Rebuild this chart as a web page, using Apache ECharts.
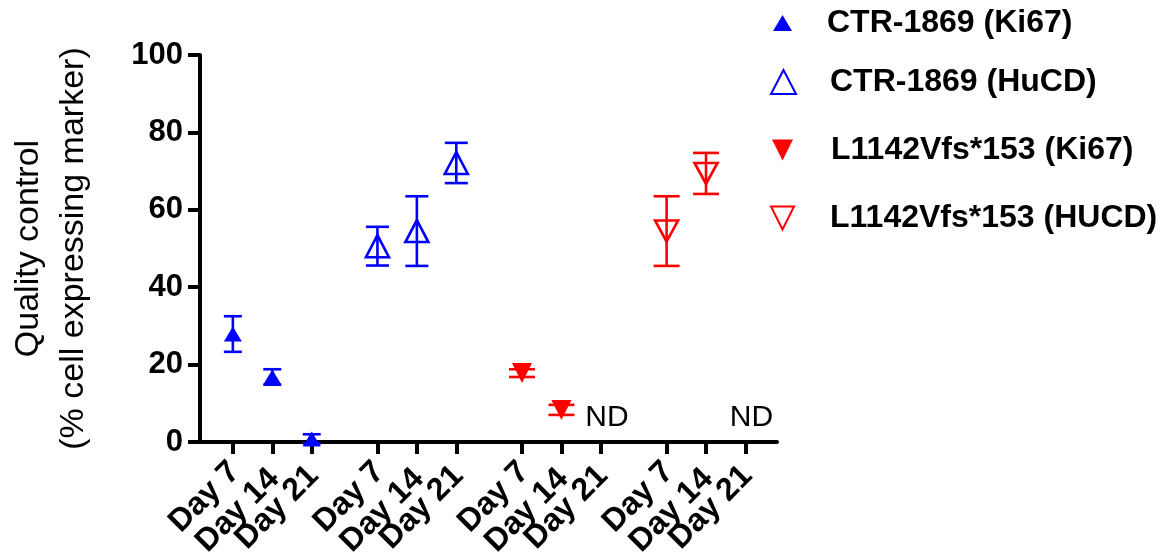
<!DOCTYPE html>
<html>
<head>
<meta charset="utf-8">
<script src="https://cdn.jsdelivr.net/npm/echarts@6/dist/echarts.min.js"></script>
<style>
  html, body { margin: 0; padding: 0; background: #fff; }
  #chart { width: 1173px; height: 556px; }
</style>
</head>
<body>
<div id="chart"></div>
<script>
// groups and x labels
const seriesNames = ['CTR-1869 (Ki67)', 'CTR-1869 (HuCD)', 'L1142Vfs*153 (Ki67)', 'L1142Vfs*153 (HUCD)'];
const dayLabels = ['Day 7', 'Day 14', 'Day 21'];

// mean and error (+/-) per day, null = not detected
const ctrKi67Mean = [27.9, 16.8, 0.8];
const ctrKi67Err = [4.6, 2.0, 1.2];
const ctrHucdMean = [50.6, 54.5, 72.1];
const ctrHucdErr = [5.0, 9.0, 5.2];
const mutKi67Mean = [17.8, 8.3, null];
const mutKi67Err = [1.0, 1.3, null];
const mutHucdMean = [54.5, 69.4, null];
const mutHucdErr = [9.0, 5.3, null];

// x layout: 3 days per group, groups spaced apart
const dayStep = 3, groupStep = 11, groupCount = 4;
const tickPos = [];
const tickText = {};
for (let g = 0; g < groupCount; g++) {
  dayLabels.forEach(function (d, i) {
    const p = g * groupStep + i * dayStep;
    tickPos.push(p);
    tickText[p] = d;
  });
}

const FONT = "'Liberation Sans', Arial, sans-serif";
const BLUE = '#0000ff', RED = '#ff0000';
const DOWN = 'path://M0,0L10,0L5,10Z';
// rotated labels sit a little right of their tick in the original
const labelShift = 0.15;
const labelMargins = [25, 32, 29];

function points(g, means) {
  const out = [];
  means.forEach(function (m, i) {
    if (m !== null) out.push([g * groupStep + i * dayStep, m]);
  });
  return out;
}
function bars(g, means, errs) {
  const out = [];
  means.forEach(function (m, i) {
    if (m !== null) out.push([g * groupStep + i * dayStep, m - errs[i], m + errs[i]]);
  });
  return out;
}
function ndPoints(g, means) {
  const out = [];
  means.forEach(function (m, i) {
    if (m === null) out.push([g * groupStep + i * dayStep, 0]);
  });
  return out;
}

function errorBar(color, capW) {
  return function (params, api) {
    const x = api.value(0);
    const lo = api.coord([x, api.value(1)]);
    const hi = api.coord([x, api.value(2)]);
    const st = { stroke: color, lineWidth: 2.6 };
    return {
      type: 'group',
      children: [
        { type: 'line', shape: { x1: hi[0], y1: hi[1], x2: lo[0], y2: lo[1] }, style: st },
        { type: 'line', shape: { x1: hi[0] - capW / 2, y1: hi[1], x2: hi[0] + capW / 2, y2: hi[1] }, style: st },
        { type: 'line', shape: { x1: lo[0] - capW / 2, y1: lo[1], x2: lo[0] + capW / 2, y2: lo[1] }, style: st }
      ]
    };
  };
}

// one x axis per day so the rotated labels never get thinned out
function dayAxis(i) {
  const vals = tickPos
    .filter(function (p, k) { return k % dayLabels.length === i; })
    .map(function (p) { return p + labelShift; });
  return {
    type: 'value',
    min: -2.5,
    max: 41.4,
    position: 'bottom',
    axisLine: { show: i === 0, onZero: false, lineStyle: { color: '#000', width: 4 } },
    axisTick: { show: i === 0, customValues: tickPos, length: 12, lineStyle: { color: '#000', width: 4 } },
    splitLine: { show: false },
    axisLabel: {
      customValues: vals,
      rotate: 45,
      margin: labelMargins[i],
      hideOverlap: false,
      fontFamily: FONT, fontWeight: 'bold', fontSize: 32, color: '#000',
      formatter: function (v) { return tickText[Math.round(v - labelShift)] || ''; }
    }
  };
}

const chart = echarts.init(document.getElementById('chart'));

function legendAt(name, icon, left, top, w, h, padLeft) {
  return {
    data: [icon ? { name: name, icon: icon } : name],
    left: left,
    top: top,
    padding: 0,
    itemWidth: w,
    itemHeight: h,
    selectedMode: false,
    textStyle: {
      fontFamily: FONT, fontWeight: 'bold', fontSize: 32, color: '#000', lineHeight: 32,
      padding: [0, 0, 0, padLeft]
    }
  };
}

const option = {
  animation: false,
  backgroundColor: '#fff',
  grid: { left: 200, top: 55, right: 396, bottom: 114, containLabel: false, outerBoundsMode: 'none' },
  legend: [
    legendAt(seriesNames[0], null, 773, 7, 19, 16, 30),
    legendAt(seriesNames[1], null, 770, 66, 25, 24, 29),
    legendAt(seriesNames[2], DOWN, 772, 134, 21, 21, 33),
    legendAt(seriesNames[3], DOWN, 770, 202, 25, 23, 30)
  ],
  xAxis: [dayAxis(0), dayAxis(1), dayAxis(2)],
  yAxis: {
    type: 'value',
    min: 0,
    max: 100,
    interval: 20,
    name: 'Quality control\n(% cell expressing marker)',
    nameLocation: 'middle',
    nameRotate: 90,
    nameGap: 104,
    nameMoveOverlap: false,
    nameTextStyle: { fontFamily: FONT, fontSize: 34, color: '#000', lineHeight: 45 },
    axisLine: { show: true, onZero: false, lineStyle: { color: '#000', width: 4 } },
    axisTick: { show: true, length: 12, lineStyle: { color: '#000', width: 4 } },
    splitLine: { show: false },
    axisLabel: {
      margin: 17,
      showMinLabel: true,
      showMaxLabel: true,
      fontFamily: FONT, fontWeight: 'bold', fontSize: 31, color: '#000'
    }
  },
  series: [
    { type: 'custom', name: 'err0', z: 2, renderItem: errorBar(BLUE, 18), data: bars(0, ctrKi67Mean, ctrKi67Err) },
    { type: 'custom', name: 'err1', z: 2, renderItem: errorBar(BLUE, 23), data: bars(1, ctrHucdMean, ctrHucdErr) },
    { type: 'custom', name: 'err2', z: 2, renderItem: errorBar(RED, 26), data: bars(2, mutKi67Mean, mutKi67Err) },
    { type: 'custom', name: 'err3', z: 2, renderItem: errorBar(RED, 26), data: bars(3, mutHucdMean, mutHucdErr) },
    {
      type: 'scatter', name: seriesNames[0], z: 3,
      symbol: 'triangle', symbolSize: [18, 15],
      itemStyle: { color: BLUE, opacity: 1 },
      data: points(0, ctrKi67Mean)
    },
    {
      type: 'scatter', name: seriesNames[1], z: 3,
      symbol: 'triangle', symbolSize: [23, 22],
      itemStyle: { color: 'rgba(0,0,0,0)', borderColor: BLUE, borderWidth: 2.6, opacity: 1 },
      data: points(1, ctrHucdMean)
    },
    {
      type: 'scatter', name: seriesNames[2], z: 3,
      symbol: 'triangle', symbolRotate: 180, symbolSize: [20, 20],
      itemStyle: { color: RED, opacity: 1 },
      data: points(2, mutKi67Mean)
    },
    {
      type: 'scatter', name: seriesNames[3], z: 3,
      symbol: 'triangle', symbolRotate: 180, symbolSize: [23, 21],
      itemStyle: { color: 'rgba(0,0,0,0)', borderColor: RED, borderWidth: 2.6, opacity: 1 },
      data: points(3, mutHucdMean)
    },
    {
      type: 'scatter', name: 'ND', z: 3,
      symbolSize: 0,
      silent: true,
      itemStyle: { opacity: 1 },
      label: {
        show: true, position: 'inside', offset: [6, -24],
        formatter: 'ND',
        fontFamily: FONT, fontSize: 30, color: '#000', opacity: 1
      },
      data: ndPoints(2, mutKi67Mean).concat(ndPoints(3, mutHucdMean))
    }
  ]
};

chart.setOption(option);
</script>
</body>
</html>
